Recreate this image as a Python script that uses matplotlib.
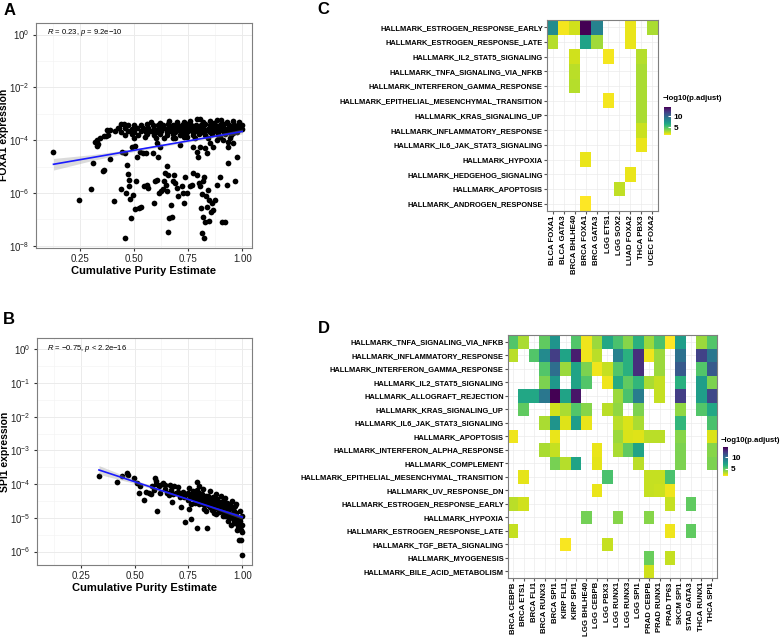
import numpy as np
import matplotlib.pyplot as plt
from matplotlib.ticker import NullFormatter, FixedLocator

plt.rcParams['font.family'] = ['Liberation Sans', 'DejaVu Sans']
plt.rcParams['mathtext.fontset'] = 'custom'
plt.rcParams['mathtext.rm'] = 'Liberation Sans'
plt.rcParams['mathtext.it'] = 'Liberation Sans:italic'

nan = np.nan

# ---- panel A: FOXA1 expression vs purity (x, log10 expression)
foxa1_points = [
    (0.127, -4.43), (0.245, -6.26), (0.299, -5.85), (0.312, -4.87), (0.327, -4.21), (0.335, -4.15),
    (0.358, -5.15), (0.362, -5.12), (0.370, -3.84), (0.380, -3.80), (0.389, -4.72), (0.407, -6.31),
    (0.427, -3.55), (0.438, -5.85), (0.443, -4.44), (0.458, -4.47), (0.458, -7.71), (0.461, -6.01),
    (0.466, -4.93), (0.473, -5.27), (0.475, -5.50), (0.478, -5.75), (0.481, -6.23), (0.484, -6.95),
    (0.489, -4.24), (0.493, -6.07), (0.504, -6.59), (0.504, -4.21), (0.509, -5.56), (0.512, -4.62),
    (0.524, -6.57), (0.527, -4.43), (0.533, -6.54), (0.543, -4.49), (0.546, -5.75), (0.555, -4.47),
    (0.558, -5.69), (0.566, -5.82), (0.589, -4.49), (0.593, -6.36), (0.597, -5.56), (0.604, -5.50),
    (0.604, -4.11), (0.612, -4.62), (0.617, -5.98), (0.620, -4.24), (0.626, -5.92), (0.635, -5.85),
    (0.638, -5.56), (0.644, -5.25), (0.647, -5.69), (0.650, -4.97), (0.650, -5.94), (0.658, -5.31),
    (0.658, -7.46), (0.663, -6.93), (0.669, -6.45), (0.674, -6.89), (0.681, -5.56), (0.681, -3.92),
    (0.684, -5.31), (0.689, -5.63), (0.697, -5.82), (0.704, -6.13), (0.712, -4.18), (0.720, -5.75),
    (0.724, -6.01), (0.732, -6.38), (0.735, -5.38), (0.743, -5.98), (0.743, -3.86), (0.758, -5.75),
    (0.766, -5.69), (0.771, -5.25), (0.774, -4.24), (0.789, -5.31), (0.789, -4.43), (0.794, -4.62),
    (0.800, -5.63), (0.804, -5.75), (0.804, -4.24), (0.807, -6.57), (0.812, -6.04), (0.812, -7.52),
    (0.817, -6.89), (0.820, -5.56), (0.823, -5.38), (0.823, -7.72), (0.828, -7.08), (0.828, -4.30),
    (0.832, -6.13), (0.835, -4.49), (0.838, -6.51), (0.843, -5.88), (0.848, -6.26), (0.848, -7.05),
    (0.851, -4.11), (0.855, -6.73), (0.858, -6.38), (0.863, -6.64), (0.866, -4.24), (0.874, -6.26),
    (0.881, -5.69), (0.881, -3.99), (0.897, -5.38), (0.897, -3.86), (0.905, -7.08), (0.912, -3.99),
    (0.920, -7.08), (0.928, -5.69), (0.932, -4.87), (0.935, -4.05), (0.935, -4.24), (0.943, -3.92),
    (0.955, -3.73), (0.958, -4.11), (0.966, -5.56), (0.977, -4.64),
    # dense upper cluster
    (0.790, -3.18), (0.805, -3.19), (0.885, -3.23), (0.900, -3.22), (0.955, -3.27), (0.985, -3.30),
    (0.580, -3.31), (0.620, -3.33), (0.660, -3.29), (0.700, -3.32), (0.730, -3.30), (0.760, -3.28),
    (0.820, -3.31), (0.850, -3.29), (0.870, -3.33), (0.930, -3.30), (0.440, -3.37), (0.455, -3.40),
    (0.470, -3.43), (0.500, -3.41), (0.530, -3.44), (0.560, -3.40), (0.585, -3.43), (0.610, -3.41),
    (0.635, -3.44), (0.655, -3.40), (0.680, -3.43), (0.700, -3.41), (0.720, -3.44), (0.745, -3.40),
    (0.765, -3.43), (0.785, -3.41), (0.810, -3.44), (0.830, -3.40), (0.850, -3.43), (0.875, -3.41),
    (0.895, -3.44), (0.915, -3.40), (0.940, -3.43), (0.960, -3.41), (0.980, -3.44), (1.000, -3.42),
    (0.430, -3.55), (0.460, -3.53), (0.490, -3.56), (0.515, -3.54), (0.540, -3.55), (0.565, -3.53),
    (0.590, -3.56), (0.615, -3.54), (0.640, -3.55), (0.660, -3.53), (0.680, -3.56), (0.700, -3.54),
    (0.720, -3.55), (0.740, -3.53), (0.760, -3.56), (0.780, -3.54), (0.800, -3.55), (0.820, -3.53),
    (0.840, -3.56), (0.860, -3.54), (0.880, -3.55), (0.900, -3.53), (0.920, -3.56), (0.940, -3.54),
    (0.960, -3.55), (0.980, -3.53), (1.000, -3.56), (0.375, -3.62), (0.390, -3.63), (0.410, -3.66),
    (0.440, -3.67), (0.470, -3.65), (0.500, -3.68), (0.530, -3.66), (0.555, -3.67), (0.580, -3.65),
    (0.600, -3.68), (0.625, -3.66), (0.650, -3.67), (0.670, -3.65), (0.690, -3.68), (0.710, -3.66),
    (0.730, -3.67), (0.750, -3.65), (0.770, -3.68), (0.790, -3.66), (0.810, -3.67), (0.830, -3.65),
    (0.850, -3.68), (0.870, -3.66), (0.890, -3.67), (0.910, -3.65), (0.930, -3.68), (0.950, -3.66),
    (0.975, -3.67), (0.460, -3.79), (0.490, -3.77), (0.520, -3.80), (0.560, -3.78), (0.590, -3.79),
    (0.620, -3.77), (0.650, -3.80), (0.680, -3.78), (0.710, -3.79), (0.740, -3.77), (0.770, -3.80),
    (0.800, -3.78), (0.830, -3.79), (0.860, -3.77), (0.890, -3.80), (0.920, -3.78), (0.950, -3.79),
    (0.500, -3.91), (0.550, -3.89), (0.600, -3.92), (0.640, -3.90), (0.690, -3.91), (0.730, -3.89),
    (0.780, -3.92), (0.840, -3.90), (0.360, -3.84), (0.340, -3.90), (0.330, -4.00), (0.320, -4.05),
]
foxa1_fit_x = [0.127, 1.0]
foxa1_fit_log = [-4.91, -3.67]
foxa1_band_x = [0.127, 0.3, 0.5, 0.7, 0.85, 1.0]
foxa1_band_lo = [-5.13, -4.78, -4.43, -4.14, -3.93, -3.76]
foxa1_band_hi = [-4.69, -4.55, -4.33, -4.06, -3.83, -3.58]

# ---- panel B: SPI1 expression vs purity
spi1_points = [
    (0.335, -3.75), (0.419, -3.95), (0.443, -3.75), (0.463, -3.66), (0.470, -3.74), (0.496, -3.82),
    (0.512, -3.97), (0.520, -4.25), (0.527, -4.07), (0.546, -4.47), (0.555, -4.22), (0.566, -4.25),
    (0.577, -4.29), (0.589, -4.17), (0.597, -3.82), (0.601, -3.92), (0.604, -4.79), (0.612, -4.07),
    (0.620, -4.02), (0.632, -3.97), (0.643, -4.02), (0.650, -4.27), (0.658, -4.32), (0.666, -4.04),
    (0.669, -4.17), (0.674, -4.52), (0.681, -4.07), (0.694, -4.27), (0.704, -4.22), (0.712, -4.37),
    (0.717, -4.68), (0.724, -4.22), (0.730, -4.37), (0.735, -5.11), (0.740, -4.29), (0.746, -4.47),
    (0.751, -4.12), (0.755, -4.74), (0.758, -4.37), (0.761, -5.04), (0.766, -4.29), (0.771, -4.19),
    (0.774, -4.42), (0.781, -4.52), (0.786, -4.32), (0.789, -4.17), (0.792, -5.31), (0.797, -4.47),
    (0.801, -4.25), (0.804, -4.40), (0.809, -4.55), (0.812, -4.29), (0.817, -4.37), (0.820, -4.59),
    (0.823, -4.74), (0.828, -4.45), (0.832, -4.35), (0.835, -5.31), (0.838, -4.52), (0.843, -4.61),
    (0.848, -4.42), (0.851, -4.68), (0.854, -4.49), (0.858, -4.78), (0.863, -4.56), (0.866, -4.39),
    (0.869, -4.66), (0.874, -4.52), (0.878, -4.88), (0.881, -4.58), (0.884, -4.44), (0.889, -4.71),
    (0.894, -4.82), (0.897, -4.52), (0.900, -4.61), (0.905, -4.70), (0.909, -4.78), (0.912, -4.49),
    (0.915, -4.88), (0.920, -4.96), (0.924, -4.66), (0.928, -4.76), (0.931, -4.92), (0.935, -5.08),
    (0.940, -4.86), (0.943, -4.61), (0.946, -5.21), (0.951, -4.88), (0.955, -5.01), (0.958, -4.72),
    (0.961, -5.16), (0.966, -4.64), (0.971, -4.96), (0.974, -5.36), (0.977, -5.16), (0.981, -5.24),
    (0.986, -5.65), (0.989, -5.01), (0.992, -5.36), (0.997, -5.41), (1.001, -6.10), (0.998, -5.21),
    (0.992, -5.65), (0.958, -5.01), (0.750, -4.25), (0.770, -4.35), (0.790, -4.45), (0.800, -4.30),
    (0.820, -4.45), (0.830, -4.60), (0.840, -4.35), (0.850, -4.55), (0.860, -4.65), (0.870, -4.45),
    (0.880, -4.70), (0.890, -4.55), (0.900, -4.80), (0.910, -4.60), (0.920, -4.70), (0.930, -4.55),
    (0.940, -4.75), (0.950, -4.95), (0.960, -4.80), (0.970, -4.85), (0.980, -5.00), (0.990, -5.10),
    (0.930, -4.85), (0.910, -4.95), (0.870, -4.85), (0.830, -4.80), (0.800, -4.60), (0.780, -4.55),
    (0.760, -4.60), (0.985, -5.30), (0.960, -5.05), (0.940, -5.00), (0.720, -4.30), (0.700, -4.10),
    (0.680, -4.30), (0.640, -4.15), (0.620, -4.25), (0.600, -4.00), (0.580, -4.05), (0.790, -3.95),
    (0.800, -4.05), (0.820, -4.15), (0.850, -4.20), (0.880, -4.30), (0.900, -4.35), (0.920, -4.40),
    (0.950, -4.50), (0.970, -4.60), (0.990, -4.80), (1.000, -4.95),
]
spi1_fit_x = [0.335, 1.0]
spi1_fit_log = [-3.58, -4.98]
spi1_band_x = [0.335, 0.5, 0.7, 0.85, 1.0]
spi1_band_lo = [-3.71, -3.98, -4.37, -4.69, -5.04]
spi1_band_hi = [-3.45, -3.87, -4.32, -4.64, -4.92]

# ---- panel C heatmap: -log10(p.adjust)
c_rows = ['HALLMARK_ESTROGEN_RESPONSE_EARLY', 'HALLMARK_ESTROGEN_RESPONSE_LATE',
          'HALLMARK_IL2_STAT5_SIGNALING', 'HALLMARK_TNFA_SIGNALING_VIA_NFKB',
          'HALLMARK_INTERFERON_GAMMA_RESPONSE', 'HALLMARK_EPITHELIAL_MESENCHYMAL_TRANSITION',
          'HALLMARK_KRAS_SIGNALING_UP', 'HALLMARK_INFLAMMATORY_RESPONSE',
          'HALLMARK_IL6_JAK_STAT3_SIGNALING', 'HALLMARK_HYPOXIA', 'HALLMARK_HEDGEHOG_SIGNALING',
          'HALLMARK_APOPTOSIS', 'HALLMARK_ANDROGEN_RESPONSE']
c_cols = ['BLCA FOXA1', 'BLCA GATA3', 'BRCA BHLHE40', 'BRCA FOXA1', 'BRCA GATA3',
          'LGG ETS1', 'LGG SOX2', 'LUAD FOXA2', 'THCA PBX3', 'UCEC FOXA2']
c_vals = [
    [8.0, 1.6, 2.3, 14.2, 8.5, nan, nan, 1.8, nan, 3.0],
    [2.8, nan, nan, 6.8, 3.2, nan, nan, 1.8, nan, nan],
    [nan, nan, 2.3, nan, nan, 1.6, nan, nan, 2.8, nan],
    [nan, nan, 2.7, nan, nan, nan, nan, nan, 3.0, nan],
    [nan, nan, 2.8, nan, nan, nan, nan, nan, 3.0, nan],
    [nan, nan, nan, nan, nan, 1.6, nan, nan, 3.0, nan],
    [nan, nan, nan, nan, nan, nan, nan, nan, 3.0, nan],
    [nan, nan, nan, nan, nan, nan, nan, nan, 2.4, nan],
    [nan, nan, nan, nan, nan, nan, nan, nan, 1.8, nan],
    [nan, nan, nan, 1.8, nan, nan, nan, nan, nan, nan],
    [nan, nan, nan, nan, nan, nan, nan, 1.8, nan, nan],
    [nan, nan, nan, nan, nan, nan, 2.6, nan, nan, nan],
    [nan, nan, nan, 1.4, nan, nan, nan, nan, nan, nan],
]

# ---- panel D heatmap
d_rows = ['HALLMARK_TNFA_SIGNALING_VIA_NFKB', 'HALLMARK_INFLAMMATORY_RESPONSE',
          'HALLMARK_INTERFERON_GAMMA_RESPONSE', 'HALLMARK_IL2_STAT5_SIGNALING',
          'HALLMARK_ALLOGRAFT_REJECTION', 'HALLMARK_KRAS_SIGNALING_UP',
          'HALLMARK_IL6_JAK_STAT3_SIGNALING', 'HALLMARK_APOPTOSIS',
          'HALLMARK_INTERFERON_ALPHA_RESPONSE', 'HALLMARK_COMPLEMENT',
          'HALLMARK_EPITHELIAL_MESENCHYMAL_TRANSITION', 'HALLMARK_UV_RESPONSE_DN',
          'HALLMARK_ESTROGEN_RESPONSE_EARLY', 'HALLMARK_HYPOXIA',
          'HALLMARK_ESTROGEN_RESPONSE_LATE', 'HALLMARK_TGF_BETA_SIGNALING',
          'HALLMARK_MYOGENESIS', 'HALLMARK_BILE_ACID_METABOLISM']
d_cols = ['BRCA CEBPB', 'BRCA ETS1', 'BRCA FLI1', 'BRCA RUNX3', 'BRCA SPI1', 'KIRP FLI1',
          'KIRP SPI1', 'LGG BHLHE40', 'LGG CEBPB', 'LGG PBX3', 'LGG RUNX1', 'LGG RUNX3',
          'LGG SPI1', 'PRAD CEBPB', 'PRAD RUNX1', 'PRAD TP63', 'SKCM SPI1', 'STAD GATA3',
          'THCA RUNX1', 'THCA SPI1']
d_vals = [
    [5.3, 3.5, nan, 5.0, 8.0, nan, 5.3, 2.2, 3.8, 7.0, 5.5, 4.2, 6.5, 3.8, 5.5, 1.9, 7.5, nan, 3.8, 5.3],
    [3.2, nan, 5.3, 8.5, 12.2, 7.2, 13.5, 2.2, 3.2, nan, 9.0, 6.5, 12.8, 2.2, 3.8, nan, 9.8, nan, 12.0, 9.5],
    [nan, nan, nan, 5.3, 10.0, 3.8, 7.2, 4.4, 2.2, 3.0, 5.3, 6.5, 12.8, nan, 3.8, nan, 11.0, nan, 5.3, 11.0],
    [nan, nan, nan, 4.4, 7.8, nan, 7.2, 5.3, nan, 2.2, 6.8, 5.0, 6.2, 3.5, 3.0, nan, 6.5, nan, 7.5, 4.4],
    [nan, 7.0, 7.0, 9.5, 14.5, 7.2, 13.8, nan, nan, nan, 3.8, 5.5, 9.2, nan, 3.0, nan, 12.2, nan, 7.5, 11.8],
    [nan, 5.0, nan, nan, 2.8, 3.5, 5.3, 4.2, nan, 3.2, 4.0, nan, 4.4, nan, nan, nan, 4.0, nan, 5.3, 7.0],
    [nan, nan, nan, 3.5, 8.0, 2.5, 7.5, 2.3, nan, nan, 3.2, 2.6, 3.5, nan, nan, nan, 6.2, nan, nan, 5.5],
    [2.2, nan, nan, nan, 2.3, nan, nan, nan, nan, nan, 3.8, 2.6, 2.5, 3.2, 3.2, nan, 4.2, nan, nan, 2.6],
    [nan, nan, nan, 3.5, 3.0, nan, nan, nan, 2.3, nan, 3.5, 5.0, 7.2, nan, nan, nan, 4.4, nan, nan, 4.2],
    [nan, nan, nan, nan, 4.5, 3.3, 7.2, nan, 2.4, nan, nan, nan, 3.2, nan, nan, nan, 4.4, nan, nan, 4.4],
    [nan, 2.4, nan, nan, nan, nan, nan, nan, nan, 5.5, nan, nan, nan, 3.0, 3.0, 5.5, nan, nan, nan, nan],
    [nan, nan, nan, nan, nan, nan, nan, nan, 2.3, nan, nan, nan, nan, 3.0, 2.9, 2.2, nan, nan, nan, nan],
    [3.2, 2.8, nan, nan, nan, nan, nan, nan, nan, nan, nan, nan, nan, nan, nan, 3.0, nan, 5.0, nan, nan],
    [nan, nan, nan, nan, nan, nan, nan, 4.6, nan, nan, 4.2, nan, nan, 4.2, nan, nan, nan, nan, nan, nan],
    [3.0, nan, nan, nan, nan, nan, nan, nan, nan, nan, nan, nan, nan, nan, nan, 2.2, nan, 5.0, nan, nan],
    [nan, nan, nan, nan, nan, 2.0, nan, nan, nan, 3.0, nan, nan, nan, nan, nan, nan, nan, nan, nan, nan],
    [nan, nan, nan, nan, nan, nan, nan, nan, nan, nan, nan, nan, nan, 4.8, nan, 3.0, nan, nan, nan, nan],
    [nan, nan, nan, nan, nan, nan, nan, nan, nan, nan, nan, nan, nan, 2.8, nan, nan, nan, nan, nan, nan],
]

BORDER = '#7f7f7f'
GRID = '#ebebeb'


def scatter_panel(ax, points, fit_x, fit_log, band_x, band_lo, band_hi, ylims, major, minor,
                  ylabel, rtext):
    pts = np.array(points)
    ax.set_yscale('log')
    ax.set_axisbelow(True)
    ax.fill_between(band_x, 10 ** np.array(band_lo), 10 ** np.array(band_hi),
                    color='#999999', alpha=0.35, lw=0, zorder=3)
    ax.scatter(pts[:, 0], 10 ** pts[:, 1], s=17, color='black', lw=0, zorder=2)
    ax.plot(fit_x, 10 ** np.array(fit_log), color='#1a1aff', lw=1.2, zorder=4)
    ax.set_xlim(0.046, 1.045)
    ax.set_ylim(10 ** ylims[0], 10 ** ylims[1])
    ax.set_xticks([0.25, 0.5, 0.75, 1.0])
    ax.set_xticklabels(['0.25', '0.50', '0.75', '1.00'])
    ax.set_xticks([0.125, 0.375, 0.625, 0.875], minor=True)
    ax.yaxis.set_major_locator(FixedLocator([10.0 ** m for m in major]))
    ax.yaxis.set_minor_locator(FixedLocator([10.0 ** m for m in minor]))
    ax.set_yticklabels(['$10^{%d}$' % m for m in major])
    ax.yaxis.set_minor_formatter(NullFormatter())
    ax.xaxis.set_minor_formatter(NullFormatter())
    ax.tick_params(which='minor', length=0)
    ax.tick_params(which='major', length=2.5, color='#333333', labelsize=7, labelcolor='#222222', pad=2)
    ax.grid(True, which='major', color=GRID, lw=0.7)
    ax.grid(True, which='minor', color='#f4f4f4', lw=0.5)
    for s in ax.spines.values():
        s.set_color(BORDER)
        s.set_linewidth(0.8)
    ax.set_xlabel('Cumulative Purity Estimate', fontsize=8, fontweight='bold', labelpad=1)
    ax.set_ylabel(ylabel, fontsize=7.5, fontweight='bold', va='center')
    ax.yaxis.set_label_coords(-0.148, 0.5)
    ax.text(0.05, 0.955, rtext, transform=ax.transAxes, fontsize=5.5, va='center', ha='left')


def heatmap_panel(fig, ax, cax, vals, rows, cols, title_pos):
    data = np.array(vals, dtype=float)
    vmin, vmax = np.nanmin(data), np.nanmax(data)
    ax.set_axisbelow(True)
    ax.grid(True, color=GRID, lw=0.5)
    m = ax.pcolormesh(np.arange(len(cols) + 1) - 0.5, np.arange(len(rows) + 1) - 0.5,
                      np.ma.masked_invalid(data), cmap='viridis_r', vmin=vmin, vmax=vmax,
                      edgecolors='none', zorder=2)
    ax.set_xlim(-0.5, len(cols) - 0.5)
    ax.set_ylim(len(rows) - 0.5, -0.5)
    ax.set_xticks(range(len(cols)))
    ax.set_xticklabels(cols, rotation=90, fontsize=5.6, fontweight='bold')
    ax.set_yticks(range(len(rows)))
    ax.set_yticklabels(rows, fontsize=5.4, fontweight='bold')
    ax.tick_params(length=2, color='#555555', pad=1)
    for s in ax.spines.values():
        s.set_color(BORDER)
        s.set_linewidth(0.8)
    cb = fig.colorbar(m, cax=cax)
    cb.outline.set_visible(False)
    cb.set_ticks([5, 10])
    cax.tick_params(length=2, direction='in', color='white', labelsize=6, pad=2)
    for t in cax.get_yticklabels():
        t.set_fontweight('bold')
    fig.text(title_pos[0], title_pos[1], '\u2212log10(p.adjust)', fontsize=5.6,
             fontweight='bold', ha='left', va='center')


fig = plt.figure(figsize=(7.84, 6.38), dpi=100)

ax_a = fig.add_axes([0.0459, 0.6113, 0.2755, 0.3531])
scatter_panel(ax_a, foxa1_points, foxa1_fit_x, foxa1_fit_log, foxa1_band_x, foxa1_band_lo,
              foxa1_band_hi, (-8.08, 0.45), [0, -2, -4, -6, -8], [-1, -3, -5, -7],
              'FOXA1 expression', '$\\it{R}$ = 0.23, $\\it{p}$ = 9.2e\u221210')

ax_b = fig.add_axes([0.0468, 0.1144, 0.2746, 0.3558])
scatter_panel(ax_b, spi1_points, spi1_fit_x, spi1_fit_log, spi1_band_x, spi1_band_lo,
              spi1_band_hi, (-6.4, 0.335), [0, -1, -2, -3, -4, -5, -6],
              [-0.5, -1.5, -2.5, -3.5, -4.5, -5.5],
              'SPI1 expression', '$\\it{R}$ = \u22120.75, $\\it{p}$ < 2.2e\u221216')

ax_c = fig.add_axes([0.6977, 0.6693, 0.1416, 0.2994])
cax_c = fig.add_axes([0.847, 0.7884, 0.0085, 0.0439])
heatmap_panel(fig, ax_c, cax_c, c_vals, c_rows, c_cols, (0.845, 1 - 99 / 638))

ax_d = fig.add_axes([0.648, 0.094, 0.2666, 0.3809])
cax_d = fig.add_axes([0.9218, 0.254, 0.0072, 0.045])
heatmap_panel(fig, ax_d, cax_d, d_vals, d_rows, d_cols, (0.919, 1 - 441 / 638))

for letter, x, y in [('A', 0.004, 0.995), ('B', 0.004, 0.511), ('C', 0.405, 0.997), ('D', 0.405, 0.497)]:
    fig.text(x, y, letter, fontsize=12, fontweight='bold', va='top', ha='left')

fig.savefig('out.png', dpi=100)
